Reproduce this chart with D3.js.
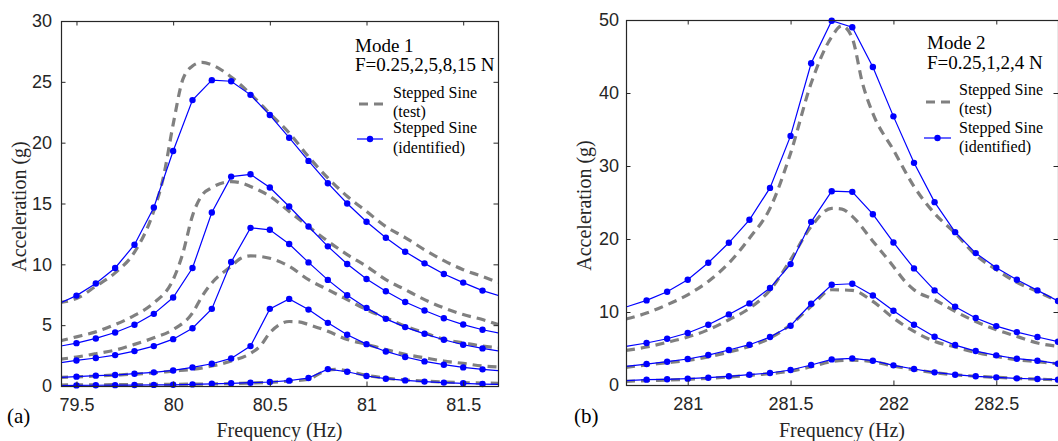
<!DOCTYPE html>
<html><head><meta charset="utf-8">
<script src="https://cdn.jsdelivr.net/npm/d3@7"></script>
<style>body{margin:0;background:#fff}</style>
</head><body><svg id="c" width="1058" height="441"></svg>
<script>
// ---------------- DATA ----------------
const mode1Freq = [79.4,79.5,79.6,79.7,79.8,79.9,80.0,80.1,80.2,80.3,80.4,80.5,80.6,80.7,80.8,80.9,81.0,81.1,81.2,81.3,81.4,81.5,81.6,81.7];
const mode1Ident15 = [6.7,7.43,8.42,9.70,11.61,14.67,19.32,23.50,25.14,25.05,23.93,22.27,20.41,18.50,16.67,15.0,13.50,12.19,11.04,10.08,9.21,8.50,7.84,7.35];
const mode1Ident8 = [3.23,3.52,3.91,4.40,5.03,5.93,7.27,9.70,14.26,17.21,17.40,16.31,14.75,13.11,11.48,10.03,8.80,7.79,6.91,6.20,5.57,5.05,4.62,4.30];
const mode1Ident5 = [1.88,2.10,2.30,2.54,2.87,3.28,3.85,4.75,6.34,10.19,13.0,12.84,11.67,10.16,8.72,7.46,6.42,5.52,4.84,4.29,3.80,3.39,3.09,2.83];
const mode1Ident2 = [0.70,0.77,0.85,0.90,1.01,1.12,1.28,1.53,1.83,2.27,3.28,6.34,7.16,6.28,5.19,4.21,3.44,2.84,2.38,2.02,1.75,1.53,1.37,1.24];
const mode1Ident025 = [0.04,0.05,0.06,0.07,0.08,0.09,0.10,0.13,0.18,0.22,0.27,0.33,0.44,0.66,1.39,1.17,0.82,0.60,0.46,0.36,0.28,0.22,0.16,0.13];

const mode1Test15 = [[79.41,6.85],[79.5,7.19],[79.6,8.2],[79.7,9.3],[79.8,11.0],[79.9,14.4],[79.95,17.2],[80.0,21.5],[80.05,25.2],[80.1,26.3],[80.15,26.6],[80.2,26.4],[80.3,25.4],[80.4,24.0],[80.5,22.4],[80.6,20.8],[80.7,18.85],[80.8,17.1],[80.9,15.6],[81.0,14.35],[81.1,13.1],[81.2,12.2],[81.3,11.2],[81.4,10.3],[81.5,9.56],[81.6,9.0],[81.68,8.5]];
const mode1Test8 = [[79.41,3.69],[79.5,4.04],[79.6,4.45],[79.7,5.05],[79.8,5.8],[79.9,6.83],[80.0,8.74],[80.05,10.9],[80.1,14.0],[80.15,15.7],[80.2,16.3],[80.3,16.8],[80.35,16.7],[80.4,16.4],[80.5,15.6],[80.6,14.35],[80.7,13.1],[80.8,11.9],[80.9,10.8],[81.0,9.84],[81.1,8.74],[81.2,7.92],[81.3,7.1],[81.4,6.42],[81.5,5.87],[81.6,5.46],[81.68,5.05]];
const mode1Test5 = [[79.41,2.19],[79.5,2.38],[79.6,2.65],[79.7,2.95],[79.8,3.42],[79.9,3.96],[80.0,4.64],[80.1,6.0],[80.15,7.38],[80.2,8.47],[80.3,9.84],[80.35,10.5],[80.4,10.7],[80.5,10.5],[80.6,9.84],[80.7,8.74],[80.8,7.92],[80.9,7.1],[81.0,6.28],[81.1,5.6],[81.2,4.92],[81.3,4.37],[81.4,3.83],[81.5,3.55],[81.6,3.28],[81.68,3.14]];
const mode1Test2 = [[79.41,0.71],[79.5,0.75],[79.6,0.82],[79.7,0.9],[79.8,0.98],[79.9,1.08],[80.0,1.23],[80.1,1.37],[80.2,1.64],[80.3,2.05],[80.4,2.68],[80.45,3.28],[80.5,4.37],[80.55,5.05],[80.6,5.3],[80.65,5.27],[80.7,5.05],[80.8,4.5],[80.9,3.83],[81.0,3.42],[81.1,3.0],[81.2,2.6],[81.3,2.32],[81.4,2.05],[81.5,1.86],[81.6,1.64],[81.68,1.56]];
const mode1Test025 = [[79.41,0.08],[79.6,0.1],[79.8,0.12],[80.0,0.14],[80.2,0.17],[80.4,0.24],[80.5,0.3],[80.6,0.4],[80.7,0.55],[80.75,0.96],[80.8,1.31],[80.85,1.37],[80.9,1.23],[81.0,0.87],[81.1,0.65],[81.2,0.5],[81.3,0.4],[81.4,0.33],[81.5,0.28],[81.6,0.24],[81.68,0.22]];

const mode2Freq = [280.7,280.8,280.9,281.0,281.1,281.2,281.3,281.4,281.5,281.6,281.7,281.8,281.9,282.0,282.1,282.2,282.3,282.4,282.5,282.6,282.7,282.8];
const mode2Ident4 = [10.68,11.59,12.77,14.42,16.74,19.48,22.63,27.0,34.12,44.07,49.9,49.0,43.57,36.8,30.43,25.05,20.94,18.07,16.06,14.42,12.96,11.5];
const mode2Ident2 = [5.29,5.75,6.34,7.12,8.26,9.67,11.18,13.28,16.56,22.35,26.55,26.46,23.4,19.53,15.97,12.96,10.72,9.17,8.07,7.25,6.57,5.93];
const mode2Ident1 = [2.55,2.87,3.19,3.56,4.1,4.79,5.52,6.57,8.12,11.13,13.73,13.87,12.27,10.17,8.26,6.61,5.47,4.65,4.06,3.6,3.33,2.92];
const mode2Ident025 = [0.59,0.73,0.78,0.87,1.0,1.19,1.41,1.64,2.05,2.74,3.51,3.65,3.33,2.69,2.19,1.73,1.41,1.19,1.05,0.91,0.82,0.73];

const mode2Test4 = [[280.7,9.03],[280.8,9.85],[280.9,11.0],[281.0,12.36],[281.1,14.19],[281.2,16.7],[281.3,20.1],[281.4,24.2],[281.5,31.75],[281.6,41.33],[281.7,47.7],[281.75,49.2],[281.8,47.5],[281.85,41.3],[281.9,37.2],[282.0,32.2],[282.1,27.2],[282.2,23.5],[282.3,20.8],[282.4,17.8],[282.5,15.8],[282.6,14.05],[282.7,12.8],[282.8,11.45]];
const mode2Test2 = [[280.7,4.74],[280.8,5.2],[280.9,5.84],[281.0,6.57],[281.1,7.57],[281.2,8.94],[281.3,10.5],[281.4,13.0],[281.5,17.15],[281.6,21.7],[281.7,24.2],[281.75,24.1],[281.8,23.1],[281.9,19.7],[282.0,16.24],[282.05,14.4],[282.1,13.05],[282.2,11.68],[282.3,10.08],[282.4,8.71],[282.5,7.57],[282.6,6.66],[282.7,5.75],[282.8,5.3]];
const mode2Test1 = [[280.7,2.42],[280.8,2.75],[280.9,3.05],[281.0,3.38],[281.1,3.85],[281.2,4.5],[281.3,5.29],[281.4,6.43],[281.5,8.26],[281.6,10.77],[281.7,13.05],[281.8,12.96],[281.9,11.45],[282.0,9.17],[282.1,7.34],[282.2,5.98],[282.3,5.2],[282.4,4.47],[282.5,3.92],[282.6,3.47],[282.7,3.2],[282.8,2.9]];
const mode2Test025 = [[280.7,0.5],[280.8,0.6],[280.9,0.68],[281.0,0.78],[281.1,0.92],[281.2,1.1],[281.3,1.32],[281.4,1.55],[281.5,1.9],[281.6,2.5],[281.7,3.2],[281.8,3.4],[281.9,3.2],[282.0,2.6],[282.1,2.1],[282.2,1.7],[282.3,1.4],[282.4,1.2],[282.5,1.05],[282.6,0.9],[282.7,0.8],[282.8,0.7]];

const mode1XTicks = [79.5,80,80.5,81,81.5];
const mode1YTicks = [0,5,10,15,20,25,30];
const mode2XTicks = [281,281.5,282,282.5];
const mode2YTicks = [0,10,20,30,40,50];

const xLabel = "Frequency (Hz)";
const yLabel = "Acceleration (g)";
const legendTest = ["Stepped Sine","(test)"];
const legendIdent = ["Stepped Sine","(identified)"];

// ---------------- DRAW ----------------
const svg = d3.select("#c");
const SANS = "'Liberation Sans', Arial, sans-serif";
const SERIF = "'Liberation Serif', 'Times New Roman', serif";
const AX = "#262626";
const BLUE = "#0000ff";
const GRAY = "#808080";

function panel(cfg, idx) {
  const x = d3.scaleLinear().domain(cfg.xDomain).range([cfg.left, cfg.right]);
  const y = d3.scaleLinear().domain(cfg.yDomain).range([cfg.bottom, cfg.top]);
  const g = svg.append("g");
  const clipId = "clip" + idx;
  svg.append("defs").append("clipPath").attr("id", clipId)
    .append("rect").attr("x", cfg.left).attr("y", cfg.top)
    .attr("width", cfg.right - cfg.left).attr("height", cfg.bottom - cfg.top);

  const plot = g.append("g").attr("clip-path", `url(#${clipId})`);
  const testLine = d3.line().x(d => x(d[0])).y(d => y(d[1])).curve(d3.curveMonotoneX);
  cfg.tests.forEach(t => {
    plot.append("path").attr("d", testLine(t)).attr("fill", "none")
      .attr("stroke", GRAY).attr("stroke-width", 3.2).attr("stroke-dasharray", "9,6");
  });
  const identLine = d3.line().x((d, i) => x(cfg.freq[i])).y(d => y(d));
  cfg.idents.forEach(s => {
    plot.append("path").attr("d", identLine(s)).attr("fill", "none")
      .attr("stroke", BLUE).attr("stroke-width", 1.2);
  });
  const mg = g.append("g");
  cfg.idents.forEach(s => {
    s.forEach((v, i) => {
      const f = cfg.freq[i];
      if (f <= cfg.xDomain[0] + 0.02 || f > cfg.xDomain[1] + 0.001) return;
      mg.append("circle").attr("cx", x(f)).attr("cy", y(v)).attr("r", 3.2).attr("fill", BLUE);
    });
  });

  // frame & ticks
  const ax = g.append("g").attr("font-family", SANS).attr("font-size", 18).attr("fill", AX);
  ax.append("g").attr("transform", `translate(0,${cfg.bottom})`)
    .call(d3.axisBottom(x).tickValues(cfg.xTicks).tickFormat(d3.format("~g")).tickSize(-4.5).tickPadding(12))
    .call(a => { a.select(".domain").remove(); a.selectAll("text").attr("fill", AX).attr("font-family", SANS).attr("font-size", 18); a.selectAll("line").attr("stroke", AX); });
  ax.append("g").attr("transform", `translate(0,${cfg.top})`)
    .call(d3.axisTop(x).tickValues(cfg.xTicks).tickFormat("").tickSize(-4.5))
    .call(a => { a.select(".domain").remove(); a.selectAll("line").attr("stroke", AX); });
  ax.append("g").attr("transform", `translate(${cfg.left},0)`)
    .call(d3.axisLeft(y).tickValues(cfg.yTicks).tickFormat(d3.format("~g")).tickSize(-4.5).tickPadding(cfg.yPad))
    .call(a => { a.select(".domain").remove(); a.selectAll("text").attr("fill", AX).attr("font-family", SANS).attr("font-size", 18); a.selectAll("line").attr("stroke", AX); });
  ax.append("g").attr("transform", `translate(${cfg.right},0)`)
    .call(d3.axisRight(y).tickValues(cfg.yTicks).tickFormat("").tickSize(-4.5))
    .call(a => { a.select(".domain").remove(); a.selectAll("line").attr("stroke", AX); });
  g.append("rect").attr("x", cfg.left + 0.5).attr("y", cfg.top + 0.5)
    .attr("width", cfg.right - cfg.left).attr("height", cfg.bottom - cfg.top)
    .attr("fill", "none").attr("stroke", AX).attr("stroke-width", 1.2);

  // axis titles
  g.append("text").attr("x", (cfg.left + cfg.right) / 2).attr("y", 437)
    .attr("text-anchor", "middle").attr("font-family", SERIF).attr("font-size", 20).attr("fill", AX).text(xLabel);
  g.append("text").attr("transform", `translate(${cfg.yTitleX},${(cfg.top + cfg.bottom) / 2 + 3}) rotate(-90)`)
    .attr("text-anchor", "middle").attr("font-family", SERIF).attr("font-size", 20).attr("fill", AX).text(yLabel);
  g.append("text").attr("x", cfg.tagX).attr("y", 423).attr("font-family", SERIF).attr("font-size", 21).attr("fill", "#000").text(cfg.tag);

  // legend
  const L = cfg.legend;
  const lg = g.append("g").attr("font-family", SERIF).attr("fill", "#000");
  lg.append("text").attr("x", L.tx).attr("y", L.y1).attr("font-size", 19).text(cfg.modeTitle);
  lg.append("text").attr("x", L.tx).attr("y", L.y2).attr("font-size", 19).text(cfg.forceTitle);
  lg.append("line").attr("x1", L.sx1).attr("x2", L.sx2).attr("y1", L.yd).attr("y2", L.yd)
    .attr("stroke", GRAY).attr("stroke-width", 3.2).attr("stroke-dasharray", "9,6");
  lg.append("text").attr("x", L.lx).attr("y", L.y3).attr("font-size", 16).text(legendTest[0]);
  lg.append("text").attr("x", L.lx).attr("y", L.y4).attr("font-size", 16).text(legendTest[1]);
  lg.append("line").attr("x1", L.sx1 - 2).attr("x2", L.sx2).attr("y1", L.yb).attr("y2", L.yb)
    .attr("stroke", BLUE).attr("stroke-width", 1.2);
  lg.append("circle").attr("cx", (L.sx1 - 2 + L.sx2) / 2).attr("cy", L.yb).attr("r", 3.2).attr("fill", BLUE);
  lg.append("text").attr("x", L.lx).attr("y", L.y5).attr("font-size", 16).text(legendIdent[0]);
  lg.append("text").attr("x", L.lx).attr("y", L.y6).attr("font-size", 16).text(legendIdent[1]);
}

panel({
  xDomain: [79.42, 81.68], yDomain: [0, 30], left: 61, right: 498, top: 21, bottom: 386,
  freq: mode1Freq,
  idents: [mode1Ident15, mode1Ident8, mode1Ident5, mode1Ident2, mode1Ident025],
  tests: [mode1Test15, mode1Test8, mode1Test5, mode1Test2, mode1Test025],
  xTicks: mode1XTicks, yTicks: mode1YTicks, yPad: 9, yTitleX: 26, tagX: 7, tag: "(a)",
  modeTitle: "Mode 1", forceTitle: "F=0.25,2,5,8,15 N",
  legend: { tx: 355, y1: 52, y2: 71, sx1: 359, sx2: 383, yd: 104, lx: 393, y3: 98, y4: 117, yb: 139, y5: 133, y6: 153 }
}, 1);

panel({
  xDomain: [280.7, 282.8], yDomain: [0, 50], left: 626, right: 1058, top: 20, bottom: 385,
  freq: mode2Freq,
  idents: [mode2Ident4, mode2Ident2, mode2Ident1, mode2Ident025],
  tests: [mode2Test4, mode2Test2, mode2Test1, mode2Test025],
  xTicks: mode2XTicks, yTicks: mode2YTicks, yPad: 7, yTitleX: 591, tagX: 574, tag: "(b)",
  modeTitle: "Mode 2", forceTitle: "F=0.25,1,2,4 N",
  legend: { tx: 927, y1: 49, y2: 69, sx1: 926, sx2: 951, yd: 102, lx: 959, y3: 95, y4: 114, yb: 138, y5: 133, y6: 152 }
}, 2);
</script>
</body></html>
